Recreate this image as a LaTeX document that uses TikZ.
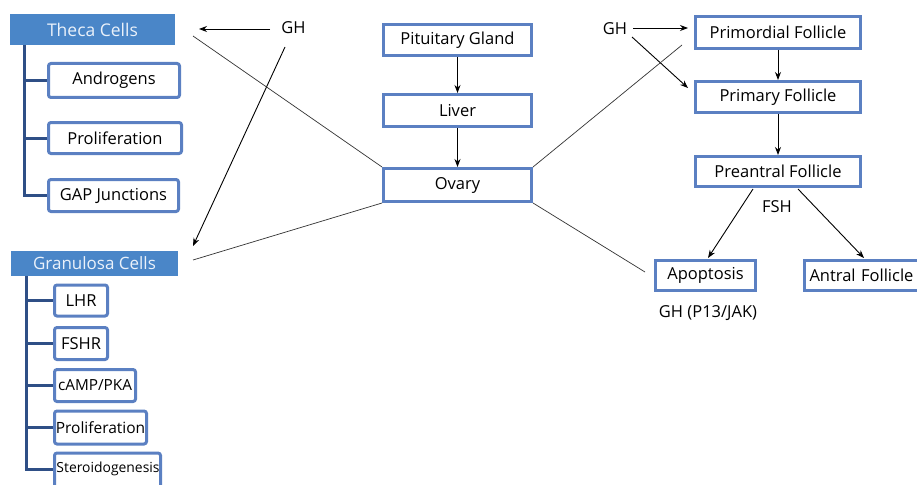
\documentclass[tikz,border=0pt]{standalone}
\usepackage{fontspec}
\setmainfont{Open Sans}
\usetikzlibrary{arrows.meta}
\definecolor{boxblue}{HTML}{5B80C2}
\definecolor{fillblue}{HTML}{4A86C8}
\definecolor{treeblue}{HTML}{2F4F86}
\definecolor{titletext}{HTML}{EAF1FA}
\tikzset{
  bx/.style={draw=boxblue, line width=3pt, fill=white, inner sep=0pt, font=\fontsize{16.5}{18}\selectfont, text=black},
  sbx/.style={bx, rounded corners=2.5pt},
  title/.style={fill=fillblue, inner sep=0pt, text=titletext, font=\fontsize{17.5}{19}\selectfont},
  lbl/.style={inner sep=0pt, font=\fontsize{16.5}{18}\selectfont},
  arr/.style={draw=black, line width=0.9pt, -{Stealth[length=8pt,width=6pt]}},
  ln/.style={draw=black!80, line width=0.7pt},
  tree/.style={draw=treeblue, line width=3pt}
}
\begin{document}
\begin{tikzpicture}[x=1pt,y=-1pt]
\useasboundingbox[fill=white] (0,0) rectangle (917,484);
% left: theca
\node[title, minimum width=165, minimum height=31] (theca) at (92.5,29.5) {Theca Cells};
\node[sbx, minimum width=131, minimum height=34] (andr) at (114,80.5) {Androgens};
\node[sbx, minimum width=133, minimum height=31] (prolt) at (115,138) {Proliferation};
\node[sbx, minimum width=130, minimum height=32] (gap) at (113.5,195.5) {GAP Junctions};
\coordinate (tt) at (24,45);
\draw[tree] (tt) |- (gap.west);
\draw[tree] (24,80.5) -- (andr.west);
\draw[tree] (24,138) -- (prolt.west);
% left: granulosa
\node[title, minimum width=167, minimum height=25, font=\fontsize{17}{19}\selectfont] (gran) at (94.5,263.5) {Granulosa Cells};
\node[sbx, minimum width=53, minimum height=31] (lhr) at (81,300.5) {LHR};
\node[sbx, minimum width=53, minimum height=32] (fshr) at (81,343.5) {FSHR};
\node[sbx, minimum width=81, minimum height=32, font=\fontsize{15.3}{17}\selectfont] (camp) at (95,385.5) {cAMP/PKA};
\node[sbx, minimum width=92, minimum height=33, font=\fontsize{15.5}{17}\selectfont] (prolg) at (100.5,427.5) {Proliferation};
\node[sbx, minimum width=106, minimum height=38, font=\fontsize{13.7}{16}\selectfont] (ster) at (107.5,472) {};
\node[lbl, font=\fontsize{13.9}{16}\selectfont] (stertext) at (108,469) {Steroidogenesis};
\coordinate (gt) at (26,276);
\draw[tree] (gt) |- (53,469);
\draw[tree] (26,300.5) -- (lhr.west);
\draw[tree] (26,343.5) -- (fshr.west);
\draw[tree] (26,385.5) -- (camp.west);
\draw[tree] (26,427.5) -- (prolg.west);
% centre column
\node[bx, minimum width=148, minimum height=31] (pit) at (457.5,40) {Pituitary Gland};
\node[bx, minimum width=148, minimum height=32] (liver) at (457.5,110.5) {Liver};
\node[bx, minimum width=148, minimum height=33] (ovary) at (457.5,185) {Ovary};
\draw[arr] (pit) -- (liver);
\draw[arr] (liver) -- (ovary);
% GH left
\node[lbl] (ghl) at (293.5,28) {GH};
\coordinate (ghlA) at (270,29);
\coordinate (thecaIn) at (199,29);
\draw[arr] (ghlA) -- (thecaIn);
\coordinate (ghlB) at (285,47);
\coordinate (granIn) at (193,246);
\draw[arr] (ghlB) -- (granIn);
% ovary connections
\coordinate (thecaOut) at (193,36);
\coordinate (granOut) at (193,260);
\draw[ln] (thecaOut) -- (ovary.north west);
\draw[ln] (granOut) -- (ovary.south west);
% right column
\node[bx, minimum width=165, minimum height=32] (prim) at (778,32.5) {Primordial Follicle};
\node[bx, minimum width=165, minimum height=31] (pri) at (778,97) {Primary Follicle};
\node[bx, minimum width=165, minimum height=30] (pre) at (778,171.5) {Preantral Follicle};
\node[bx, minimum width=100, minimum height=30] (apo) at (705.5,275.5) {Apoptosis};
\node[bx, minimum width=125, minimum height=30, text width=115pt, align=left] (antral) at (867,275.5) {Antral Follicle};
\draw[arr] (prim) -- (pri);
\draw[arr] (pri) -- (pre);
\node[lbl] (fsh) at (777,207) {FSH};
\coordinate (preL) at (753,189);
\coordinate (preR) at (798,189);
\coordinate (apoIn) at (708,258);
\coordinate (antIn) at (864,258);
\draw[arr] (preL) -- (apoIn);
\draw[arr] (preR) -- (antIn);
\node[lbl] (gpj) at (708,313) {GH (P13/JAK)};
% GH right
\node[lbl] (ghr) at (615,29) {GH};
\coordinate (ghrA) at (633,28);
\coordinate (primIn) at (688,28);
\draw[arr] (ghrA) -- (primIn);
\coordinate (ghrB) at (632,37);
\coordinate (priIn) at (688,88);
\draw[arr] (ghrB) -- (priIn);
\coordinate (primOut) at (682,45);
\coordinate (apoOut) at (645,272);
\draw[ln] (ovary.north east) -- (primOut);
\draw[ln] (ovary.south east) -- (apoOut);
\end{tikzpicture}
\end{document}
